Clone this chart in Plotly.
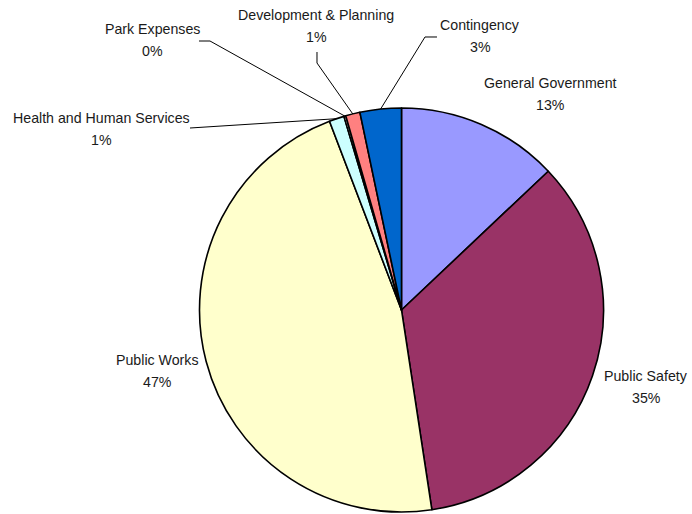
import math
import plotly.graph_objects as go

categories = ["General Government", "Public Safety", "Public Works",
              "Health and Human Services", "Park Expenses",
              "Development & Planning", "Contingency"]
values = [12.95, 34.65, 46.6, 1.2, 0.15, 1.15, 3.3]
colors = ["#9999FF", "#993366", "#FFFFCC", "#CCFFFF", "#FFFFFF", "#FF8080", "#0066CC"]

W, H = 692, 514
CX, CY, R = 401.5, 310.0, 202.0

# label centres (px) for name line; percent line is 22px lower
label_pos = {
    "General Government": (550, 83),
    "Public Safety": (646, 376),
    "Public Works": (157, 360),
    "Health and Human Services": (101, 118),
    "Park Expenses": (152, 29),
    "Development & Planning": (316, 15),
    "Contingency": (480, 25),
}
# leader line start/elbow points (px)
leaders = {
    "Health and Human Services": [(190, 128)],
    "Park Expenses": [(199, 41), (210, 41)],
    "Development & Planning": [(317, 52), (317, 63)],
    "Contingency": [(437, 37), (425, 37)],
}

def px(x):
    return x / W

def py(y):
    return 1 - y / H

fig = go.Figure(go.Pie(
    labels=categories, values=values, sort=False, direction="clockwise",
    rotation=0, textinfo="none", hoverinfo="none",
    marker=dict(colors=colors, line=dict(color="#000000", width=1.6)),
    domain=dict(x=[px(CX - R), px(CX + R)], y=[py(CY + R), py(CY - R)]),
    showlegend=False,
))

total = sum(values)
annotations = []
shapes = []
cum = 0.0
font = dict(family="Arial, Liberation Sans, sans-serif", size=14.2, color="#1a1a1a")
for name, v in zip(categories, values):
    mid = (cum + v / 2) / total * 2 * math.pi
    cum += v
    lx, ly = label_pos[name]
    pct = f"{round(v / total * 100):d}%"
    annotations.append(dict(x=px(lx), y=py(ly), xref="paper", yref="paper",
                            text=name, showarrow=False, font=font,
                            xanchor="center", yanchor="middle"))
    annotations.append(dict(x=px(lx), y=py(ly + 22), xref="paper", yref="paper",
                            text=pct, showarrow=False, font=font,
                            xanchor="center", yanchor="middle"))
    if name in leaders:
        ex = CX + R * math.sin(mid)
        ey = CY - R * math.cos(mid)
        pts = leaders[name] + [(ex, ey)]
        path = "M " + " L ".join(f"{px(a):.5f},{py(b):.5f}" for a, b in pts)
        shapes.append(dict(type="path", path=path, xref="paper", yref="paper",
                           line=dict(color="#000000", width=1)))

fig.update_layout(
    width=W, height=H, margin=dict(l=0, r=0, t=0, b=0),
    paper_bgcolor="#FFFFFF", plot_bgcolor="#FFFFFF",
    annotations=annotations, shapes=shapes,
)

fig.write_html("out.html", config={"displayModeBar": False},
               post_script="document.body.style.margin='0px';document.body.style.overflow='hidden';")
